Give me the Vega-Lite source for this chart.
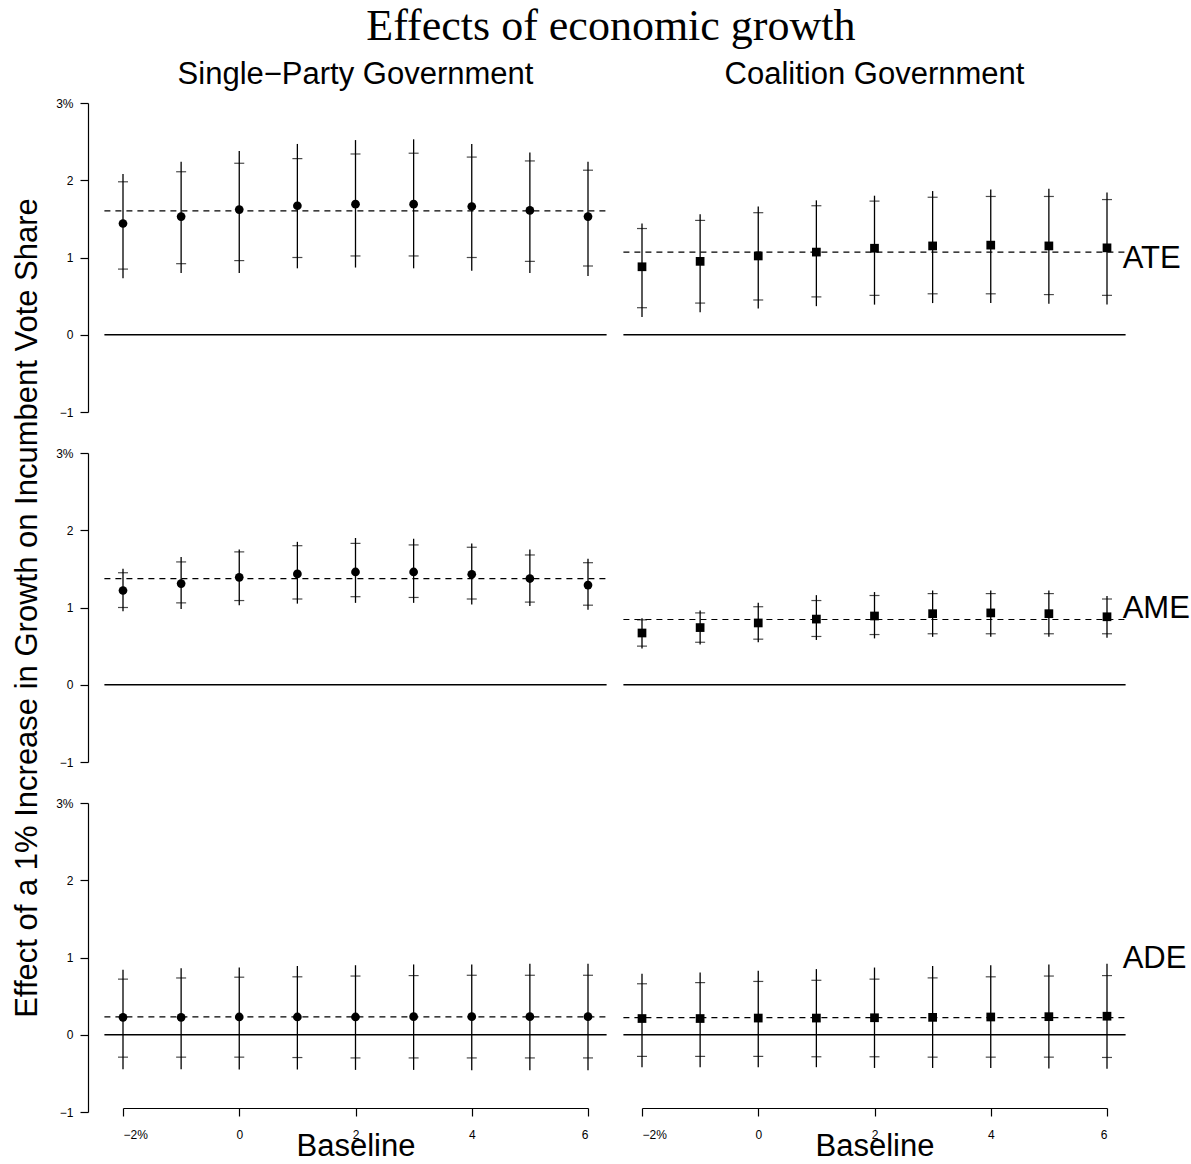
{
  "$schema": "https://vega.github.io/schema/vega-lite/v6.json",
  "padding": {"left": 11, "top": 5, "right": 4, "bottom": 0},
  "background": "white",
  "title": {"text": "Effects of economic growth", "font": "Liberation Serif", "fontSize": 44, "fontWeight": "normal", "color": "black", "anchor": "middle", "offset": 10, "dx": 10},
  "datasets": {
    "effects": [
      {"gov": "Single−Party Government", "eff": "ATE", "base": -2, "pt": 1.44, "lo95": 0.73, "lo90": 0.85, "hi90": 1.98, "hi95": 2.08},
      {"gov": "Single−Party Government", "eff": "ATE", "base": -1, "pt": 1.53, "lo95": 0.80, "lo90": 0.92, "hi90": 2.11, "hi95": 2.24},
      {"gov": "Single−Party Government", "eff": "ATE", "base": 0, "pt": 1.62, "lo95": 0.80, "lo90": 0.96, "hi90": 2.22, "hi95": 2.38},
      {"gov": "Single−Party Government", "eff": "ATE", "base": 1, "pt": 1.67, "lo95": 0.86, "lo90": 1.00, "hi90": 2.28, "hi95": 2.47},
      {"gov": "Single−Party Government", "eff": "ATE", "base": 2, "pt": 1.69, "lo95": 0.87, "lo90": 1.02, "hi90": 2.34, "hi95": 2.52},
      {"gov": "Single−Party Government", "eff": "ATE", "base": 3, "pt": 1.69, "lo95": 0.86, "lo90": 1.02, "hi90": 2.35, "hi95": 2.53},
      {"gov": "Single−Party Government", "eff": "ATE", "base": 4, "pt": 1.66, "lo95": 0.83, "lo90": 1.00, "hi90": 2.30, "hi95": 2.47},
      {"gov": "Single−Party Government", "eff": "ATE", "base": 5, "pt": 1.61, "lo95": 0.80, "lo90": 0.95, "hi90": 2.25, "hi95": 2.36},
      {"gov": "Single−Party Government", "eff": "ATE", "base": 6, "pt": 1.53, "lo95": 0.76, "lo90": 0.89, "hi90": 2.13, "hi95": 2.24},
      {"gov": "Coalition Government", "eff": "ATE", "base": -2, "pt": 0.88, "lo95": 0.23, "lo90": 0.35, "hi90": 1.375, "hi95": 1.44},
      {"gov": "Coalition Government", "eff": "ATE", "base": -1, "pt": 0.95, "lo95": 0.29, "lo90": 0.41, "hi90": 1.48, "hi95": 1.56},
      {"gov": "Coalition Government", "eff": "ATE", "base": 0, "pt": 1.02, "lo95": 0.34, "lo90": 0.45, "hi90": 1.58, "hi95": 1.66},
      {"gov": "Coalition Government", "eff": "ATE", "base": 1, "pt": 1.07, "lo95": 0.37, "lo90": 0.49, "hi90": 1.67, "hi95": 1.74},
      {"gov": "Coalition Government", "eff": "ATE", "base": 2, "pt": 1.12, "lo95": 0.39, "lo90": 0.51, "hi90": 1.73, "hi95": 1.80},
      {"gov": "Coalition Government", "eff": "ATE", "base": 3, "pt": 1.15, "lo95": 0.41, "lo90": 0.53, "hi90": 1.78, "hi95": 1.86},
      {"gov": "Coalition Government", "eff": "ATE", "base": 4, "pt": 1.16, "lo95": 0.41, "lo90": 0.53, "hi90": 1.79, "hi95": 1.88},
      {"gov": "Coalition Government", "eff": "ATE", "base": 5, "pt": 1.15, "lo95": 0.40, "lo90": 0.52, "hi90": 1.79, "hi95": 1.89},
      {"gov": "Coalition Government", "eff": "ATE", "base": 6, "pt": 1.125, "lo95": 0.39, "lo90": 0.51, "hi90": 1.75, "hi95": 1.84},
      {"gov": "Single−Party Government", "eff": "AME", "base": -2, "pt": 1.22, "lo95": 0.95, "lo90": 1.00, "hi90": 1.45, "hi95": 1.50},
      {"gov": "Single−Party Government", "eff": "AME", "base": -1, "pt": 1.31, "lo95": 0.98, "lo90": 1.06, "hi90": 1.59, "hi95": 1.655},
      {"gov": "Single−Party Government", "eff": "AME", "base": 0, "pt": 1.39, "lo95": 1.03, "lo90": 1.09, "hi90": 1.72, "hi95": 1.75},
      {"gov": "Single−Party Government", "eff": "AME", "base": 1, "pt": 1.435, "lo95": 1.05, "lo90": 1.11, "hi90": 1.80, "hi95": 1.85},
      {"gov": "Single−Party Government", "eff": "AME", "base": 2, "pt": 1.46, "lo95": 1.06, "lo90": 1.14, "hi90": 1.83, "hi95": 1.90},
      {"gov": "Single−Party Government", "eff": "AME", "base": 3, "pt": 1.46, "lo95": 1.06, "lo90": 1.13, "hi90": 1.81, "hi95": 1.89},
      {"gov": "Single−Party Government", "eff": "AME", "base": 4, "pt": 1.43, "lo95": 1.04, "lo90": 1.11, "hi90": 1.78, "hi95": 1.83},
      {"gov": "Single−Party Government", "eff": "AME", "base": 5, "pt": 1.375, "lo95": 1.02, "lo90": 1.07, "hi90": 1.68, "hi95": 1.75},
      {"gov": "Single−Party Government", "eff": "AME", "base": 6, "pt": 1.29, "lo95": 0.97, "lo90": 1.03, "hi90": 1.58, "hi95": 1.63},
      {"gov": "Coalition Government", "eff": "AME", "base": -2, "pt": 0.67, "lo95": 0.47, "lo90": 0.50, "hi90": 0.84, "hi95": 0.86},
      {"gov": "Coalition Government", "eff": "AME", "base": -1, "pt": 0.74, "lo95": 0.52, "lo90": 0.55, "hi90": 0.93, "hi95": 0.96},
      {"gov": "Coalition Government", "eff": "AME", "base": 0, "pt": 0.80, "lo95": 0.55, "lo90": 0.59, "hi90": 1.01, "hi95": 1.06},
      {"gov": "Coalition Government", "eff": "AME", "base": 1, "pt": 0.85, "lo95": 0.58, "lo90": 0.625, "hi90": 1.09, "hi95": 1.16},
      {"gov": "Coalition Government", "eff": "AME", "base": 2, "pt": 0.89, "lo95": 0.60, "lo90": 0.65, "hi90": 1.155, "hi95": 1.20},
      {"gov": "Coalition Government", "eff": "AME", "base": 3, "pt": 0.92, "lo95": 0.62, "lo90": 0.66, "hi90": 1.18, "hi95": 1.22},
      {"gov": "Coalition Government", "eff": "AME", "base": 4, "pt": 0.93, "lo95": 0.62, "lo90": 0.66, "hi90": 1.18, "hi95": 1.22},
      {"gov": "Coalition Government", "eff": "AME", "base": 5, "pt": 0.92, "lo95": 0.62, "lo90": 0.66, "hi90": 1.18, "hi95": 1.22},
      {"gov": "Coalition Government", "eff": "AME", "base": 6, "pt": 0.88, "lo95": 0.61, "lo90": 0.66, "hi90": 1.11, "hi95": 1.15},
      {"gov": "Single−Party Government", "eff": "ADE", "base": -2, "pt": 0.225, "lo95": -0.445, "lo90": -0.29, "hi90": 0.72, "hi95": 0.84},
      {"gov": "Single−Party Government", "eff": "ADE", "base": -1, "pt": 0.225, "lo95": -0.445, "lo90": -0.29, "hi90": 0.735, "hi95": 0.86},
      {"gov": "Single−Party Government", "eff": "ADE", "base": 0, "pt": 0.23, "lo95": -0.45, "lo90": -0.29, "hi90": 0.745, "hi95": 0.87},
      {"gov": "Single−Party Government", "eff": "ADE", "base": 1, "pt": 0.23, "lo95": -0.45, "lo90": -0.295, "hi90": 0.75, "hi95": 0.89},
      {"gov": "Single−Party Government", "eff": "ADE", "base": 2, "pt": 0.23, "lo95": -0.455, "lo90": -0.30, "hi90": 0.76, "hi95": 0.90},
      {"gov": "Single−Party Government", "eff": "ADE", "base": 3, "pt": 0.234, "lo95": -0.455, "lo90": -0.30, "hi90": 0.766, "hi95": 0.91},
      {"gov": "Single−Party Government", "eff": "ADE", "base": 4, "pt": 0.234, "lo95": -0.46, "lo90": -0.30, "hi90": 0.77, "hi95": 0.91},
      {"gov": "Single−Party Government", "eff": "ADE", "base": 5, "pt": 0.234, "lo95": -0.46, "lo90": -0.30, "hi90": 0.77, "hi95": 0.92},
      {"gov": "Single−Party Government", "eff": "ADE", "base": 6, "pt": 0.234, "lo95": -0.46, "lo90": -0.30, "hi90": 0.77, "hi95": 0.92},
      {"gov": "Coalition Government", "eff": "ADE", "base": -2, "pt": 0.21, "lo95": -0.42, "lo90": -0.28, "hi90": 0.66, "hi95": 0.79},
      {"gov": "Coalition Government", "eff": "ADE", "base": -1, "pt": 0.21, "lo95": -0.42, "lo90": -0.28, "hi90": 0.675, "hi95": 0.805},
      {"gov": "Coalition Government", "eff": "ADE", "base": 0, "pt": 0.216, "lo95": -0.42, "lo90": -0.28, "hi90": 0.69, "hi95": 0.83},
      {"gov": "Coalition Government", "eff": "ADE", "base": 1, "pt": 0.216, "lo95": -0.42, "lo90": -0.285, "hi90": 0.705, "hi95": 0.85},
      {"gov": "Coalition Government", "eff": "ADE", "base": 2, "pt": 0.22, "lo95": -0.43, "lo90": -0.285, "hi90": 0.72, "hi95": 0.87},
      {"gov": "Coalition Government", "eff": "ADE", "base": 3, "pt": 0.225, "lo95": -0.43, "lo90": -0.29, "hi90": 0.736, "hi95": 0.89},
      {"gov": "Coalition Government", "eff": "ADE", "base": 4, "pt": 0.23, "lo95": -0.43, "lo90": -0.29, "hi90": 0.75, "hi95": 0.90},
      {"gov": "Coalition Government", "eff": "ADE", "base": 5, "pt": 0.234, "lo95": -0.437, "lo90": -0.29, "hi90": 0.76, "hi95": 0.91},
      {"gov": "Coalition Government", "eff": "ADE", "base": 6, "pt": 0.24, "lo95": -0.44, "lo90": -0.294, "hi90": 0.766, "hi95": 0.92}
    ]
  },
  "data": {"name": "effects"},
  "bounds": "flush",
  "facet": {
    "row": {
      "field": "eff", "type": "nominal", "sort": ["ATE", "AME", "ADE"],
      "title": "Effect of a 1% Increase in Growth on Incumbent Vote Share",
      "header": {"labels": false, "titleFont": "Liberation Sans", "titleFontSize": 31, "titleFontWeight": "normal", "titleColor": "black", "titlePadding": 1}
    },
    "column": {
      "field": "gov", "type": "nominal", "sort": ["Single−Party Government", "Coalition Government"],
      "title": null,
      "header": {"labelFont": "Liberation Sans", "labelFontSize": 31, "labelColor": "black", "labelPadding": 12}
    }
  },
  "spacing": {"row": 41, "column": 54},
  "spec": {
    "width": 465,
    "height": 309,
    "layer": [
      {
        "mark": {"type": "point", "filled": true, "color": "black", "opacity": 1, "size": 76},
        "encoding": {
          "x": {"field": "base", "type": "quantitative",
            "scale": {"domain": [-2, 6], "nice": false, "zero": false},
            "axis": {"values": [-2, 0, 2, 4, 6], "format": "d", "labelExpr": "datum.value == -2 ? '−2%' : datum.label", "title": "Baseline"}},
          "y": {"field": "pt", "type": "quantitative",
            "scale": {"domain": [-1, 3], "nice": false, "zero": false},
            "axis": {"values": [-1, 0, 1, 2, 3], "format": "d", "labelExpr": "datum.value == 3 ? '3%' : datum.label", "title": null}},
          "shape": {"field": "gov", "type": "nominal", "scale": {"domain": ["Single−Party Government", "Coalition Government"], "range": ["circle", "square"]}, "legend": null}
        }
      },
      {
        "transform": [{"aggregate": [{"op": "count", "as": "n"}], "groupby": ["eff", "gov"]}],
        "mark": {"type": "rule", "color": "black", "strokeWidth": 1.3},
        "encoding": {
          "y": {"datum": 0, "type": "quantitative", "scale": {"domain": [-1, 3], "nice": false, "zero": false}},
          "x": {"datum": -2.32, "type": "quantitative", "scale": {"domain": [-2, 6], "nice": false, "zero": false}},
          "x2": {"datum": 6.32}
        }
      },
      {
        "mark": {"type": "rule", "color": "black", "strokeWidth": 1.2, "strokeDash": [6, 5]},
        "encoding": {
          "y": {"field": "pt", "aggregate": "mean", "type": "quantitative", "scale": {"domain": [-1, 3], "nice": false, "zero": false}},
          "x": {"datum": -2.32, "type": "quantitative", "scale": {"domain": [-2, 6], "nice": false, "zero": false}},
          "x2": {"datum": 6.32}
        }
      },
      {
        "mark": {"type": "rule", "color": "black", "strokeWidth": 1.3},
        "encoding": {
          "x": {"field": "base", "type": "quantitative", "scale": {"domain": [-2, 6], "nice": false, "zero": false}},
          "y": {"field": "lo95", "type": "quantitative", "scale": {"domain": [-1, 3], "nice": false, "zero": false}},
          "y2": {"field": "hi95"}
        }
      },
      {
        "mark": {"type": "tick", "orient": "horizontal", "color": "black", "size": 10, "thickness": 1.2},
        "encoding": {
          "x": {"field": "base", "type": "quantitative", "scale": {"domain": [-2, 6], "nice": false, "zero": false}},
          "y": {"field": "lo90", "type": "quantitative", "scale": {"domain": [-1, 3], "nice": false, "zero": false}}
        }
      },
      {
        "mark": {"type": "tick", "orient": "horizontal", "color": "black", "size": 10, "thickness": 1.2},
        "encoding": {
          "x": {"field": "base", "type": "quantitative", "scale": {"domain": [-2, 6], "nice": false, "zero": false}},
          "y": {"field": "hi90", "type": "quantitative", "scale": {"domain": [-1, 3], "nice": false, "zero": false}}
        }
      },
      {
        "transform": [
          {"filter": "datum.gov == 'Coalition Government'"},
          {"aggregate": [{"op": "count", "as": "n"}], "groupby": ["eff", "gov"]}
        ],
        "mark": {"type": "text", "font": "Liberation Sans", "fontSize": 31, "color": "black", "align": "left", "baseline": "middle"},
        "encoding": {
          "text": {"field": "eff", "type": "nominal"},
          "x": {"datum": 6.27, "type": "quantitative", "scale": {"domain": [-2, 6], "nice": false, "zero": false}},
          "y": {"datum": 0.98, "type": "quantitative", "scale": {"domain": [-1, 3], "nice": false, "zero": false}}
        }
      }
    ]
  },
  "config": {
    "view": {"stroke": null},
    "font": "Liberation Sans",
    "axisX": {
      "grid": false,
      "domainColor": "black", "tickColor": "black", "labelColor": "black", "titleColor": "black",
      "domainWidth": 1.2, "tickWidth": 1.2,
      "tickSize": 8, "labelFontSize": 12, "labelPadding": 13, "labelFont": "Liberation Sans",
      "offset": -4,
      "titleFont": "Liberation Sans", "titleFontSize": 31, "titleFontWeight": "normal", "titlePadding": -9
    },
    "axisY": {
      "grid": false,
      "domainColor": "black", "tickColor": "black", "labelColor": "black",
      "domainWidth": 1.2, "tickWidth": 1.2,
      "tickSize": 8, "labelFontSize": 12, "labelPadding": 7, "labelFont": "Liberation Sans",
      "offset": 35
    }
  }
}
